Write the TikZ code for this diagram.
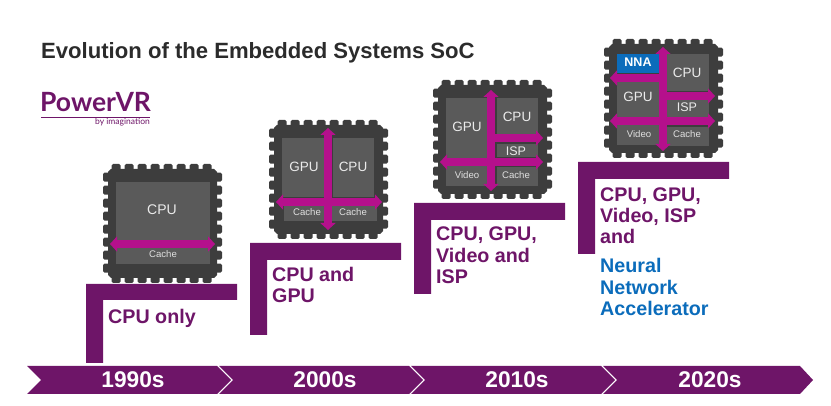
\documentclass[tikz,border=0pt]{standalone}
\usepackage{fontspec}
\setmainfont{Liberation Sans}
\newfontfamily\logofont{Lato}
\usetikzlibrary{arrows.meta}
\definecolor{plum}{HTML}{6E1568}
\definecolor{bus}{HTML}{B5108C}
\definecolor{chipdark}{HTML}{3D3D3D}
\definecolor{cellgrey}{HTML}{5A5A5A}
\definecolor{nnablue}{HTML}{0B6CBB}
\definecolor{titlegrey}{HTML}{2B2B2B}
\newcommand{\fpx}[1]{\fontsize{#1pt}{#1pt}\selectfont}
\tikzset{
  x=1pt,y=-1pt,
  stepbar/.style={fill=plum,draw=none},
  band/.style={fill=plum,draw=none},
  bandtext/.style={text=white,font=\bfseries\fpx{22.7},inner sep=0pt},
  steptext/.style={text=plum,font=\bfseries\fpx{19.7},anchor=base west,inner sep=0pt},
  bluetext/.style={steptext,text=nnablue},
  cellbox/.style={fill=cellgrey,draw=none},
  celltext/.style={text=white!92!black,inner sep=0pt,font=\fpx{13.5}},
  smalltext/.style={text=white!88!black,inner sep=0pt,font=\fpx{9.6}},
  busline/.style={draw=bus,line width=7.5pt,{Triangle[width=15pt,length=7pt]}-{Triangle[width=15pt,length=7pt]}},
  busright/.style={draw=bus,line width=7.5pt,-{Triangle[width=15pt,length=7pt]}},
}
% chip package: #1 = left, #2 = top of the 119 x 119 outline
\newcommand{\chippkg}[2]{%
  \begin{scope}[shift={(#1,#2)}]
    \fill[chipdark] (8,5) -- (111,5) -- (114,8) -- (114,111) -- (111,114) -- (8,114) -- (5,111) -- (5,8) -- cycle;
    \foreach \t in {0,...,7}{
      \fill[chipdark,rounded corners=1.5pt] (8.7+13*\t,0) rectangle (17.7+13*\t,8);
      \fill[chipdark,rounded corners=1.5pt] (8.7+13*\t,111) rectangle (17.7+13*\t,119);
      \fill[chipdark,rounded corners=1.5pt] (0,8.7+13*\t) rectangle (8,17.7+13*\t);
      \fill[chipdark,rounded corners=1.5pt] (111,8.7+13*\t) rectangle (119,17.7+13*\t);
    }
  \end{scope}}
\begin{document}
\begin{tikzpicture}
\useasboundingbox (0,0) rectangle (831,406);

% title and logo
\node[anchor=base west,inner sep=0pt,text=titlegrey,font=\bfseries\fpx{22.1}] (title) at (41,59) {Evolution of the Embedded Systems SoC};
\node[anchor=base west,inner sep=0pt,text=plum,font=\logofont\bfseries\fpx{26.5}] (logo) at (40,112) {PowerVR};
\coordinate (logoL) at (41,117.5);
\coordinate (logoR) at (150,117.5);
\draw[plum,line width=0.8pt] (logoL) -- (logoR);
\node[anchor=base east,inner sep=0pt,text=plum,font=\logofont\fpx{8.5}] (logoby) at (150,125) {by imagination};

% step bars
\fill[stepbar] (86,284) -- (237,284) -- (237,300) -- (103,300) -- (103,363) -- (86,363) -- cycle;
\fill[stepbar] (250,243) -- (401,243) -- (401,260) -- (267,260) -- (267,335) -- (250,335) -- cycle;
\fill[stepbar] (414,203) -- (565,203) -- (565,220) -- (431,220) -- (431,294) -- (414,294) -- cycle;
\fill[stepbar] (578,162) -- (729,162) -- (729,179) -- (595,179) -- (595,254) -- (578,254) -- cycle;

% step texts
\node[steptext] (s1a) at (108,323.5) {CPU only};
\node[steptext] (s2a) at (272,281.5) {CPU and};
\node[steptext] (s2b) at (272,302.5) {GPU};
\node[steptext] (s3a) at (436,240.5) {CPU, GPU,};
\node[steptext] (s3b) at (436,262.5) {Video and};
\node[steptext] (s3c) at (436,283.5) {ISP};
\node[steptext] (s4a) at (600,201.5) {CPU, GPU,};
\node[steptext] (s4b) at (600,222.5) {Video, ISP};
\node[steptext] (s4c) at (600,243.5) {and};
\node[bluetext] (s4d) at (600,272.5) {Neural};
\node[bluetext] (s4e) at (600,294.5) {Network};
\node[bluetext] (s4f) at (600,315.5) {Accelerator};

% timeline
\fill[band] (27,366) -- (217,366) -- (231,380) -- (217,394) -- (27,394) -- (41,380) -- cycle;
\fill[band] (219,366) -- (409,366) -- (423,380) -- (409,394) -- (219,394) -- (233,380) -- cycle;
\fill[band] (411,366) -- (601,366) -- (615,380) -- (601,394) -- (411,394) -- (425,380) -- cycle;
\fill[band] (603,366) -- (800,366) -- (813,380) -- (800,394) -- (603,394) -- (617,380) -- cycle;
\node[bandtext] (y1) at (133,380) {1990s};
\node[bandtext] (y2) at (325,380) {2000s};
\node[bandtext] (y3) at (517,380) {2010s};
\node[bandtext] (y4) at (710,380) {2020s};

% chip 1
\chippkg{103}{164}
\fill[cellbox] (116,182) rectangle (209.5,264);
\coordinate (c1L) at (110,244);
\coordinate (c1R) at (215,244);
\draw[busline] (c1L) -- (c1R);
\node[celltext,font=\fpx{14}] (c1cpu) at (162,210) {CPU};
\node[smalltext] (c1cache) at (163,254.5) {Cache};

% chip 2
\chippkg{269}{120}
\fill[cellbox] (282,138) rectangle (324,197);
\fill[cellbox] (333,138) rectangle (374,197);
\fill[cellbox] (284,206) rectangle (326,221);
\fill[cellbox] (331,206) rectangle (377,221);
\coordinate (c2T) at (328,128);
\coordinate (c2B) at (328,230);
\coordinate (c2L) at (276,202);
\coordinate (c2R) at (382,202);
\draw[busline] (c2T) -- (c2B);
\draw[busline] (c2L) -- (c2R);
\node[celltext] (c2gpu) at (304,167) {GPU};
\node[celltext] (c2cpu) at (353,167) {CPU};
\node[smalltext] (c2c1) at (307,212) {Cache};
\node[smalltext] (c2c2) at (353,212) {Cache};

% chip 3
\chippkg{433}{80}
\fill[cellbox] (446,98) rectangle (488,186);
\fill[cellbox] (497,98) rectangle (538,135);
\fill[cellbox] (497,144) rectangle (538,157);
\fill[cellbox] (497,167) rectangle (538,186);
\coordinate (c3T) at (491,90);
\coordinate (c3B) at (491,191);
\coordinate (c3L) at (440,162);
\coordinate (c3R) at (543,162);
\coordinate (c3M) at (491,138);
\coordinate (c3E) at (543,138);
\draw[busline] (c3T) -- (c3B);
\draw[busline] (c3L) -- (c3R);
\draw[busright] (c3M) -- (c3E);
\node[celltext] (c3gpu) at (467,127) {GPU};
\node[celltext] (c3cpu) at (517,117) {CPU};
\node[celltext,font=\fpx{12.5}] (c3isp) at (516,151) {ISP};
\node[smalltext] (c3vid) at (467,175) {Video};
\node[smalltext] (c3cache) at (516,175) {Cache};

% chip 4
\chippkg{604}{39}
\fill[nnablue] (617,54) rectangle (659,73);
\fill[cellbox] (617,82) rectangle (659,117);
\fill[cellbox] (617,125) rectangle (659,145);
\fill[cellbox] (667,54) rectangle (709,91);
\fill[cellbox] (667,99) rectangle (709,117);
\fill[cellbox] (667,127) rectangle (709,146);
\coordinate (c4T) at (663,47);
\coordinate (c4B) at (663,151);
\coordinate (c4L) at (610,121);
\coordinate (c4R) at (715,121);
\coordinate (c4M) at (663,96);
\coordinate (c4E) at (715,96);
\coordinate (c4N) at (663,78);
\coordinate (c4W) at (610,78);
\draw[busline] (c4T) -- (c4B);
\draw[busline] (c4L) -- (c4R);
\draw[busright] (c4M) -- (c4E);
\draw[busright] (c4N) -- (c4W);
\node[celltext,font=\bfseries\fpx{12.5},text=white] (c4nna) at (638,62.5) {NNA};
\node[celltext] (c4cpu) at (687,73) {CPU};
\node[celltext] (c4gpu) at (638,97) {GPU};
\node[celltext,font=\fpx{12.5}] (c4isp) at (687,107) {ISP};
\node[smalltext] (c4vid) at (639,134) {Video};
\node[smalltext] (c4cache) at (687,134) {Cache};
\end{tikzpicture}
\end{document}
